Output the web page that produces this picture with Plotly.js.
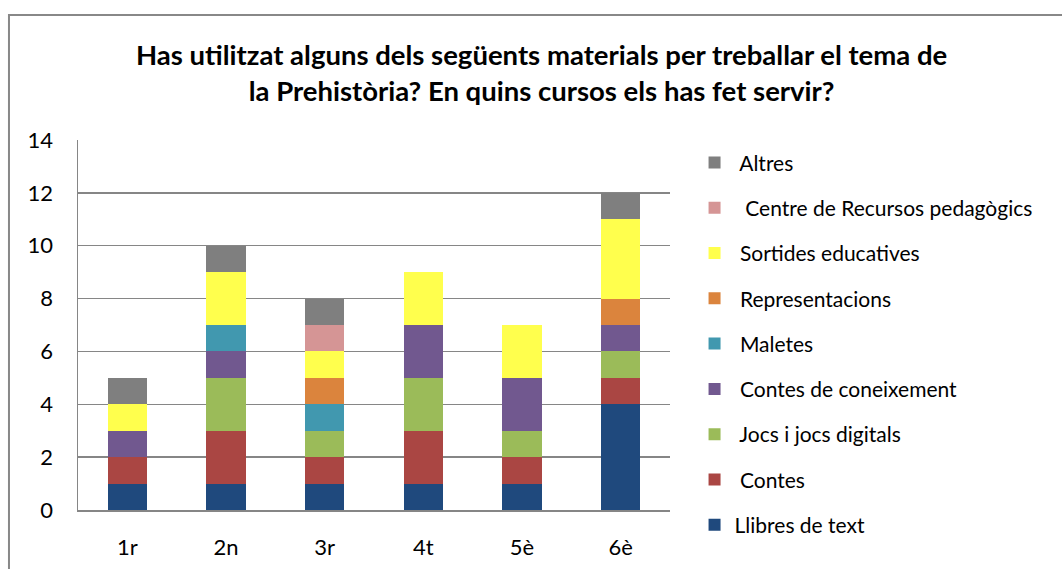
<!DOCTYPE html>
<html>
<head>
<meta charset="utf-8">
<script src="https://cdn.plot.ly/plotly-3.0.1.min.js"></script>
<style>html,body{margin:0;padding:0;background:#fff;}#chart{width:1062px;height:569px;}</style>
</head>
<body>
<div id="chart"></div>
<script>
const cursos = ["1r", "2n", "3r", "4t", "5è", "6è"];
const seriesNames = ["Llibres de text", " Contes", " Jocs i jocs digitals", " Contes de coneixement", " Maletes", " Representacions", " Sortides educatives", "  Centre de Recursos pedagògics", " Altres"];
const llibres      = [1, 1, 1, 1, 1, 4];
const contes       = [1, 2, 1, 2, 1, 1];
const jocs         = [0, 2, 1, 2, 1, 1];
const contesCon    = [1, 1, 0, 2, 2, 1];
const maletes      = [0, 1, 1, 0, 0, 0];
const representacions = [0, 0, 1, 0, 0, 1];
const sortides     = [1, 2, 1, 2, 2, 3];
const centreRec    = [0, 0, 1, 0, 0, 0];
const altres       = [1, 1, 1, 0, 0, 1];
const yTicks = [0, 2, 4, 6, 8, 10, 12, 14];
const colors = ["#1F497D", "#AA4643", "#9BBB59", "#71588F", "#4198AF", "#DB843D", "#FFFF4D", "#D59595", "#7F7F7F"];
const allValues = [llibres, contes, jocs, contesCon, maletes, representacions, sortides, centreRec, altres];

const FONT = "Lato, 'Open Sans', sans-serif";
const traces = allValues.map((vals, i) => ({
  type: "bar",
  name: seriesNames[i],
  x: cursos,
  y: vals,
  marker: {color: colors[i], line: {width: 0}},
  legendgroup: "g" + i,
  legendrank: 1000 - i,
  hoverinfo: "name+y"
}));

const layout = {
  width: 1062, height: 569,
  barmode: "stack",
  bargap: 0.6,
  margin: {l: 78, r: 392, t: 140, b: 59},
  paper_bgcolor: "#ffffff",
  plot_bgcolor: "#ffffff",
  font: {family: FONT, size: 22, color: "#000"},
  title: {
    text: "<b>Has utilitzat alguns dels següents materials per treballar el tema de<br>la Prehistòria? En quins cursos els has fet servir?</b>",
    font: {family: FONT, size: 27.5, color: "#000"},
    x: 0.51, xref: "container", xanchor: "center",
    y: 0.886, yref: "container", yanchor: "top"
  },
  xaxis: {
    type: "category",
    showgrid: false,
    showline: true, linecolor: "#868686", linewidth: 1.5,
    ticks: "", tickfont: {family: FONT, size: 22},
    ticklabelstandoff: 17
  },
  yaxis: {
    range: [0, 14],
    tickvals: yTicks,
    ticktext: yTicks.map(String),
    showgrid: true, gridcolor: "#868686", gridwidth: 1.5,
    showline: true, linecolor: "#868686", linewidth: 1.5,
    zeroline: false,
    ticks: "", tickfont: {family: FONT, size: 22},
    ticklabelstandoff: 19
  },
  legend: {
    traceorder: "grouped",
    xref: "container", yref: "container",
    x: 0.654, y: 0.75, xanchor: "left", yanchor: "top",
    font: {family: FONT, size: 21},
    tracegroupgap: 15,
    maxheight: 560,
    bgcolor: "rgba(0,0,0,0)"
  },
  shapes: [{
    type: "rect", xref: "paper", yref: "paper",
    x0: -0.1166, x1: 2.0, y0: -0.5, y1: 1.338,
    line: {color: "#888888", width: 2}, fillcolor: "rgba(0,0,0,0)", layer: "below"
  }],
  showlegend: true
};

Plotly.newPlot("chart", traces, layout, {displayModeBar: false, staticPlot: true});
</script>
</body>
</html>
